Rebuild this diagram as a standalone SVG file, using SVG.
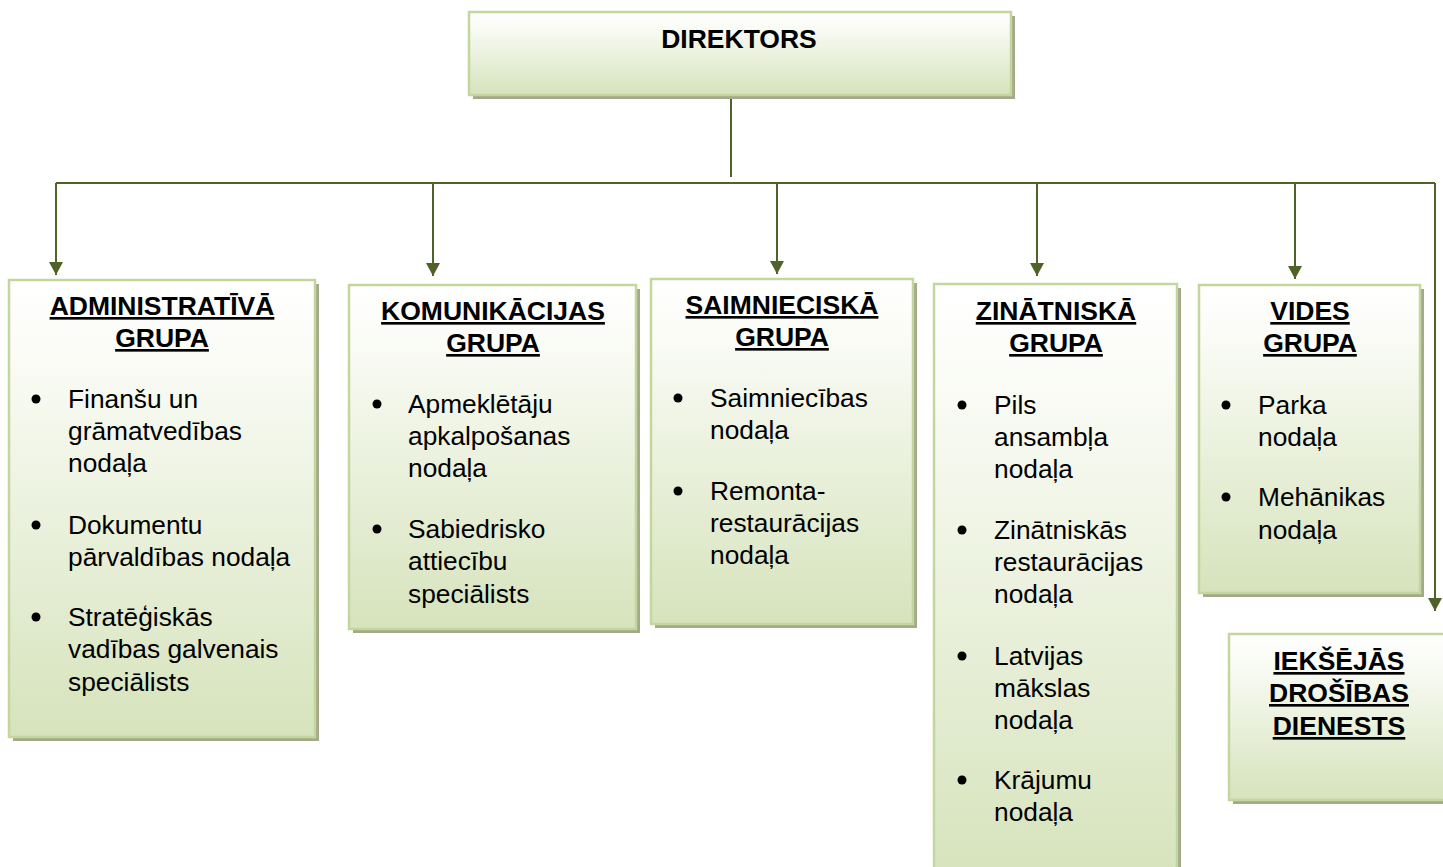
<svg xmlns="http://www.w3.org/2000/svg" width="1443" height="867" viewBox="0 0 1443 867">
<defs>
<linearGradient id="g" x1="0" y1="0" x2="0" y2="1">
<stop offset="0" stop-color="#ffffff"/>
<stop offset="0.12" stop-color="#fcfdf9"/>
<stop offset="1" stop-color="#d6e3bc"/>
</linearGradient>
<marker id="arr" markerUnits="userSpaceOnUse" markerWidth="14" markerHeight="14" viewBox="0 0 13 14" refX="13" refY="7" orient="auto">
<path d="M0,0 L13,7 L0,14 Z" fill="#4f6228"/>
</marker>
<style>
.sh{fill:#a3a98a}
.bx{fill:url(#g);stroke:#c3d69b;stroke-width:2.5}
.h{font-family:"Liberation Sans",Arial,sans-serif;font-weight:bold;font-size:26.5px;text-decoration:underline;fill:#000;text-anchor:middle}
.t{font-family:"Liberation Sans",Arial,sans-serif;font-size:26.3px;fill:#000}
.d{font-family:"Liberation Sans",Arial,sans-serif;font-weight:bold;font-size:26.5px;fill:#000;text-anchor:middle}
.c{fill:none;stroke:#4f6228;stroke-width:2}
.b{fill:#000}
</style>
</defs>
<rect width="1443" height="867" fill="#fff"/>
<g id="connectors">
<path class="c" d="M731,97 V177"/>
<path class="c" d="M56,183 H1435"/>
<path class="c" d="M56,183 V275" marker-end="url(#arr)"/>
<path class="c" d="M433,183 V276" marker-end="url(#arr)"/>
<path class="c" d="M777,183 V274" marker-end="url(#arr)"/>
<path class="c" d="M1037,183 V276" marker-end="url(#arr)"/>
<path class="c" d="M1295,183 V279" marker-end="url(#arr)"/>
<path class="c" d="M1435,183 V611" marker-end="url(#arr)"/>
</g>
<g id="direktors">
<rect class="sh" x="473" y="16" width="542" height="83"/>
<rect class="bx" x="469" y="12" width="542" height="83"/>
<text class="d" x="739" y="48">DIREKTORS</text>
</g>
<g id="administrativa">
<rect class="sh" x="13" y="284" width="306" height="457"/>
<rect class="bx" x="9" y="280" width="306" height="457"/>
<text class="h" x="162" y="315">ADMINISTRATĪVĀ</text>
<text class="h" x="162" y="347">GRUPA</text>
<circle class="b" cx="36" cy="399" r="4.5"/>
<circle class="b" cx="36" cy="525" r="4.5"/>
<circle class="b" cx="36" cy="617" r="4.5"/>
<text class="t" x="68" y="408">Finanšu un</text>
<text class="t" x="68" y="440">grāmatvedības</text>
<text class="t" x="68" y="472">nodaļa</text>
<text class="t" x="68" y="534">Dokumentu</text>
<text class="t" x="68" y="566">pārvaldības nodaļa</text>
<text class="t" x="68" y="626">Stratēģiskās</text>
<text class="t" x="68" y="658">vadības galvenais</text>
<text class="t" x="68" y="691">speciālists</text>
</g>
<g id="komunikacijas">
<rect class="sh" x="353" y="289" width="287" height="344"/>
<rect class="bx" x="349" y="285" width="287" height="344"/>
<text class="h" x="493" y="320">KOMUNIKĀCIJAS</text>
<text class="h" x="493" y="352">GRUPA</text>
<circle class="b" cx="377" cy="404" r="4.5"/>
<circle class="b" cx="377" cy="529" r="4.5"/>
<text class="t" x="408" y="413">Apmeklētāju</text>
<text class="t" x="408" y="445">apkalpošanas</text>
<text class="t" x="408" y="477">nodaļa</text>
<text class="t" x="408" y="538">Sabiedrisko</text>
<text class="t" x="408" y="570">attiecību</text>
<text class="t" x="408" y="603">speciālists</text>
</g>
<g id="saimnieciska">
<rect class="sh" x="655" y="283" width="262" height="345"/>
<rect class="bx" x="651" y="279" width="262" height="345"/>
<text class="h" x="782" y="314">SAIMNIECISKĀ</text>
<text class="h" x="782" y="346">GRUPA</text>
<circle class="b" cx="678" cy="398" r="4.5"/>
<circle class="b" cx="678" cy="491" r="4.5"/>
<text class="t" x="710" y="407">Saimniecības</text>
<text class="t" x="710" y="439">nodaļa</text>
<text class="t" x="710" y="500">Remonta-</text>
<text class="t" x="710" y="532">restaurācijas</text>
<text class="t" x="710" y="564">nodaļa</text>
</g>
<g id="zinatniska">
<rect class="sh" x="938" y="288" width="243" height="600"/>
<rect class="bx" x="934" y="284" width="243" height="600"/>
<text class="h" x="1056" y="320">ZINĀTNISKĀ</text>
<text class="h" x="1056" y="352">GRUPA</text>
<circle class="b" cx="962" cy="405" r="4.5"/>
<circle class="b" cx="962" cy="530" r="4.5"/>
<circle class="b" cx="962" cy="656" r="4.5"/>
<circle class="b" cx="962" cy="780" r="4.5"/>
<text class="t" x="994" y="414">Pils</text>
<text class="t" x="994" y="446">ansambļa</text>
<text class="t" x="994" y="478">nodaļa</text>
<text class="t" x="994" y="539">Zinātniskās</text>
<text class="t" x="994" y="571">restaurācijas</text>
<text class="t" x="994" y="603">nodaļa</text>
<text class="t" x="994" y="665">Latvijas</text>
<text class="t" x="994" y="697">mākslas</text>
<text class="t" x="994" y="729">nodaļa</text>
<text class="t" x="994" y="789">Krājumu</text>
<text class="t" x="994" y="821">nodaļa</text>
</g>
<g id="vides">
<rect class="sh" x="1203" y="289" width="221" height="308"/>
<rect class="bx" x="1199" y="285" width="221" height="308"/>
<text class="h" x="1310" y="320">VIDES</text>
<text class="h" x="1310" y="352">GRUPA</text>
<circle class="b" cx="1226" cy="405" r="4.5"/>
<circle class="b" cx="1226" cy="497" r="4.5"/>
<text class="t" x="1258" y="414">Parka</text>
<text class="t" x="1258" y="446">nodaļa</text>
<text class="t" x="1258" y="506">Mehānikas</text>
<text class="t" x="1258" y="539">nodaļa</text>
</g>
<g id="iekseja">
<rect class="sh" x="1233" y="638" width="220" height="166"/>
<rect class="bx" x="1229" y="634" width="220" height="166"/>
<text class="h" x="1339" y="670">IEKŠĒJĀS</text>
<text class="h" x="1339" y="702">DROŠĪBAS</text>
<text class="h" x="1339" y="735">DIENESTS</text>
</g>
</svg>
